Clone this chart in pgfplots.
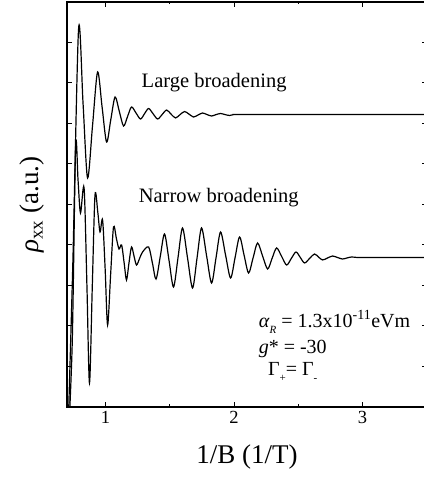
\documentclass[border=0pt]{standalone}
\usepackage{fontspec}
\setmainfont{Liberation Serif}
\usepackage{pgfplots}
\pgfplotsset{compat=1.18}
\usetikzlibrary{calc}
\begin{document}
\begin{tikzpicture}
\begin{axis}[
  scale only axis, width=359.8pt, height=405pt,
  xmin=0.7, xmax=3.5, ymin=0, ymax=10,
  xtick={1,2,3}, minor xtick={1.5,2.5},
  ytick={1,2,3,4,5,6,7,8,9}, yticklabels={},
  tick align=inside, xtick pos=both, ytick pos=both,
  major tick length=5pt, minor tick length=2.5pt,
  axis line style={line width=1.8pt},
  every tick/.style={black, line width=1pt},
  /pgf/number format/assume math mode=true,
  xticklabel style={font=\fontsize{18.5}{20}\selectfont, yshift=-1pt},
  xlabel={1/B (1/T)},
  ylabel={\textit{ρ}\textsubscript{xx} (a.u.)},
  xlabel style={at={(axis description cs:0.5,-0.1407)}, anchor=base, font=\fontsize{27}{30}\selectfont},
  ylabel style={at={(axis description cs:-0.078,0.5)}, anchor=base, rotate=0, font=\fontsize{27}{30}\selectfont},
  clip=true,
]
\addplot[black, line width=1.2pt, smooth] coordinates {
(0.700,-1.5) (0.745,3.5) (0.790,9.333) (0.825,7.49) (0.860,5.654) (0.899,6.96)
(0.938,8.272) (0.973,7.41) (1.008,6.543) (1.041,7.10) (1.074,7.654) (1.107,7.30)
(1.140,6.938) (1.171,7.17) (1.202,7.407) (1.237,7.26) (1.272,7.111) (1.303,7.24)
(1.335,7.370) (1.370,7.24) (1.405,7.111) (1.440,7.22) (1.475,7.333) (1.510,7.23)
(1.545,7.136) (1.580,7.22) (1.615,7.296) (1.650,7.23) (1.685,7.160) (1.720,7.21)
(1.755,7.259) (1.790,7.22) (1.825,7.185) (1.860,7.22) (1.895,7.247) (1.930,7.22)
(1.965,7.198) (2.000,7.222) (2.043,7.222) (2.500,7.222) (3.000,7.222) (3.500,7.222)
};
\addplot[black, line width=1.2pt, smooth] coordinates {
(0.700,-1.5) (0.740,1.5) (0.767,6.444) (0.786,5.6) (0.805,4.790) (0.833,5.407)
(0.855,3.0) (0.875,0.593) (0.897,3.0) (0.918,5.235) (0.940,4.8) (0.957,4.321)
(0.977,4.617) (0.997,3.4) (1.016,2.025) (1.040,3.3) (1.062,4.444) (1.085,4.15)
(1.105,3.901) (1.125,4.0) (1.145,3.55) (1.163,3.136) (1.182,3.55) (1.202,3.951)
(1.222,3.72) (1.241,3.506) (1.265,3.67) (1.288,3.827) (1.335,3.951) (1.365,3.55)
(1.393,3.160) (1.426,3.72) (1.459,4.272) (1.494,3.62) (1.529,2.963) (1.564,3.69)
(1.599,4.420) (1.638,3.68) (1.677,2.938) (1.712,3.68) (1.747,4.420) (1.786,3.74)
(1.825,3.062) (1.860,3.69) (1.895,4.321) (1.934,3.75) (1.973,3.185) (2.008,3.69)
(2.043,4.198) (2.078,3.75) (2.113,3.309) (2.148,3.68) (2.183,4.049) (2.222,3.73)
(2.261,3.407) (2.296,3.67) (2.331,3.926) (2.370,3.72) (2.409,3.506) (2.446,3.67)
(2.482,3.827) (2.516,3.69) (2.549,3.556) (2.588,3.67) (2.626,3.778) (2.658,3.70)
(2.689,3.630) (2.728,3.68) (2.767,3.728) (2.806,3.69) (2.844,3.654) (2.879,3.68)
(2.914,3.704) (2.960,3.691) (3.000,3.691) (3.500,3.691)
};
\node[anchor=base west, font=\fontsize{20.5}{24}\selectfont, inner sep=0pt] at (axis cs:1.280,7.90) {Large broadening};
\node[anchor=base west, font=\fontsize{20.5}{24}\selectfont, inner sep=0pt] at (axis cs:1.257,5.06) {Narrow broadening};
\node[anchor=base west, font=\fontsize{20}{24}\selectfont, inner sep=0pt] at (axis cs:2.191,1.975) {\textit{α}\raisebox{-0.7ex}{\fontsize{11}{12}\selectfont\textit{R}} = 1.3x10\textsuperscript{-11}eVm};
\node[anchor=base west, font=\fontsize{20}{24}\selectfont, inner sep=0pt] at (axis cs:2.191,1.333) {\textit{g}* = -30};
\node[anchor=base west, font=\fontsize{20}{24}\selectfont, inner sep=0pt] at (axis cs:2.263,0.79) {Γ\raisebox{-0.7ex}{\fontsize{11}{12}\selectfont +}= Γ\raisebox{-0.7ex}{\fontsize{11}{12}\selectfont -}};
\coordinate (bl) at (rel axis cs:0,0);
\coordinate (tr) at (rel axis cs:1,1);
\end{axis}
\pgfresetboundingbox
\path[use as bounding box] ($(bl)+(-67pt,-71pt)$) rectangle ($(tr)+(-2.8pt,2pt)$);
\end{tikzpicture}
\end{document}
